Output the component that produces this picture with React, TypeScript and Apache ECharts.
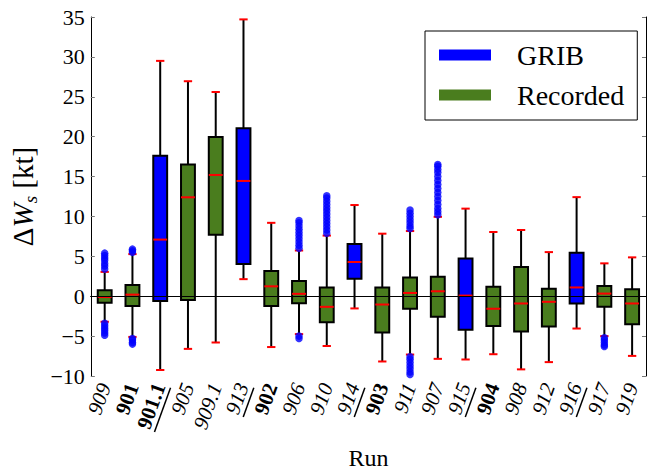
import React, { useEffect, useRef } from "react";
import * as echarts from "echarts";

// ---- data ----
const categories = ["909", "901", "901.1", "905", "909.1", "913", "902", "906", "910", "914", "903", "911", "907", "915", "904", "908", "912", "916", "917", "919"];
// G = GRIB, R = Recorded
const source = ["R", "R", "G", "R", "R", "G", "R", "R", "R", "G", "R", "R", "R", "G", "R", "R", "R", "G", "R", "R"];
const boldRuns = ["901", "901.1", "902", "903", "904"];

const whiskerLow = [-3.2, -5.1, -9.25, -6.6, -5.8, 2.14, -6.37, -4.75, -6.24, -1.53, -8.18, -7.31, -7.85, -7.93, -7.27, -9.17, -8.26, -4.05, -5.0, -7.48];
const q1 = [-0.83, -1.24, -0.6, -0.46, 7.7, 4.04, -1.24, -0.87, -3.27, 2.18, -4.55, -1.57, -2.56, -4.21, -3.72, -4.42, -3.8, -0.91, -1.33, -3.52];
const median = [-0.1, 0.2, 7.1, 12.4, 15.2, 14.45, 1.24, 0.3, -1.33, 4.29, -1.04, 0.41, 0.62, 0.08, -1.57, -0.91, -0.7, 1.1, 0.33, -0.91];
const q3 = [0.74, 1.4, 17.6, 16.5, 19.95, 21.05, 3.17, 1.9, 1.1, 6.56, 1.1, 2.35, 2.43, 4.74, 1.19, 3.67, 0.94, 5.45, 1.28, 0.87];
const whiskerHigh = [3.05, 5.28, 29.5, 26.95, 25.6, 34.7, 9.2, 5.73, 7.6, 11.43, 7.84, 8.17, 9.95, 10.98, 8.05, 8.3, 5.53, 12.42, 4.12, 4.87];

const outliers909 = [3.4, 3.8, 4.1, 4.5, 4.8, 5.1, 5.4, -3.4, -3.7, -4.0, -4.3, -4.6, -4.9];
const outliers901 = [5.5, 5.7, 5.9, -5.3, -5.5, -5.8, -6.0];
const outliers906 = [6.0, 6.4, 6.8, 7.2, 7.6, 8.0, 8.4, 8.8, 9.2, 9.5, -5.0, -5.3];
const outliers910 = [7.9, 8.3, 8.7, 9.1, 9.5, 9.9, 10.3, 10.7, 11.1, 11.5, 11.9, 12.3, 12.6];
const outliers911 = [8.5, 8.8, 9.2, 9.6, 10.0, 10.4, 10.8, -7.6, -7.9, -8.3, -8.7, -9.1, -9.5, -9.8];
const outliers907 = [10.2, 10.6, 11.0, 11.5, 12.0, 12.5, 13.0, 13.5, 14.0, 14.5, 15.0, 15.5, 15.9, 16.3, 16.5];
const outliers917 = [-5.2, -5.5, -5.8, -6.1, -6.3];

const outlierRuns = ["909", "901", "906", "910", "911", "907", "917"];
const outlierLists = [outliers909, outliers901, outliers906, outliers910, outliers911, outliers907, outliers917];

const FONT = "Liberation Serif";
const BLUE = "#0000ff";
const GREEN = "#4a7d1e";

export default function App() {
  const ref = useRef<HTMLDivElement>(null);

  useEffect(() => {
    if (!ref.current) return;
    const chart = echarts.init(ref.current, undefined, { renderer: "svg" });

    const boxData = (kind: string) =>
      categories
        .map((_, i) => [i, whiskerLow[i], q1[i], median[i], q3[i], whiskerHigh[i]])
        .filter((_, i) => source[i] === kind);

    const renderItem = (params: any, api: any) => {
      const x = api.value(0);
      const lo = api.coord([x, api.value(1)]);
      const a = api.coord([x, api.value(2)]);
      const m = api.coord([x, api.value(3)]);
      const b = api.coord([x, api.value(4)]);
      const hi = api.coord([x, api.value(5)]);
      const band = api.size([1, 0])[0];
      const hw = band * 0.25;
      const cw = band * 0.15;
      const cx = lo[0];
      const fill = api.visual("color");
      return {
        type: "group",
        children: [
          { type: "line", shape: { x1: cx, y1: lo[1], x2: cx, y2: a[1] }, style: { stroke: "#000", lineWidth: 2 } },
          { type: "line", shape: { x1: cx, y1: b[1], x2: cx, y2: hi[1] }, style: { stroke: "#000", lineWidth: 2 } },
          { type: "line", shape: { x1: cx - cw, y1: lo[1], x2: cx + cw, y2: lo[1] }, style: { stroke: "#ff0000", lineWidth: 2 } },
          { type: "line", shape: { x1: cx - cw, y1: hi[1], x2: cx + cw, y2: hi[1] }, style: { stroke: "#ff0000", lineWidth: 2 } },
          { type: "rect", shape: { x: cx - hw, y: b[1], width: hw * 2, height: a[1] - b[1] }, style: { fill, stroke: "#000", lineWidth: 2 } },
          { type: "line", shape: { x1: cx - hw, y1: m[1], x2: cx + hw, y2: m[1] }, style: { stroke: "#ff0000", lineWidth: 2 } },
        ],
      };
    };

    const scatterData: number[][] = [];
    outlierRuns.forEach((run, k) => {
      const idx = categories.indexOf(run);
      outlierLists[k].forEach((v) => scatterData.push([idx, v]));
    });

    const minus = (v: number) => (v < 0 ? "\u2212" + Math.abs(v) : String(v));

    const option: any = {
      animation: false,
      textStyle: { fontFamily: FONT },
      grid: { left: 87, right: 1, top: 17, bottom: 95, containLabel: false },
      legend: {
        data: ["GRIB", "Recorded"],
        orient: "vertical",
        left: 425,
        top: 31,
        padding: [10, 13, 11, 14],
        itemWidth: 52,
        itemHeight: 11,
        itemGap: 12,
        icon: "rect",
        borderColor: "#000",
        borderWidth: 1,
        borderRadius: 0,
        backgroundColor: "#fff",
        itemStyle: { borderWidth: 0 },
        textStyle: { fontFamily: FONT, fontSize: 28, lineHeight: 28, color: "#000", padding: [0, 0, 0, 21] },
      },
      xAxis: [
        {
          type: "category",
          data: categories,
          position: "bottom",
          boundaryGap: true,
          name: "Run",
          nameLocation: "middle",
          nameGap: 70,
          nameTextStyle: { fontFamily: FONT, fontSize: 24, color: "#000" },
          axisLine: { lineStyle: { color: "#000", width: 1 } },
          axisTick: { inside: true, alignWithLabel: true, length: 4, lineStyle: { color: "#777" } },
          axisLabel: {
            rotate: 70,
            margin: 8,
            interval: 0,
            color: "#000",
            formatter: (val: string, idx: number) => {
              const bold = boldRuns.includes(val);
              const key = bold ? "b" : "i";
              if (source[idx] === "G") {
                return `{${key}|${val}}\n{u${key}|}`;
              }
              return `{${key}|${val}}`;
            },
            rich: {
              i: { fontFamily: FONT, fontSize: 21, fontStyle: "italic", color: "#000", lineHeight: 22 },
              b: { fontFamily: FONT, fontSize: 21, fontWeight: "bold", color: "#000", lineHeight: 22 },
              ui: { width: 31, height: 1.5, lineHeight: 2, backgroundColor: "#000" },
              ub: { width: 47, height: 1.5, lineHeight: 2, backgroundColor: "#000" },
            },
          },
          splitLine: { show: false },
        },
        {
          type: "category",
          data: categories,
          position: "top",
          boundaryGap: true,
          axisLine: { lineStyle: { color: "#000", width: 1 } },
          axisTick: { inside: true, alignWithLabel: true, length: 4, lineStyle: { color: "#777" } },
          axisLabel: { show: false },
          splitLine: { show: false },
        },
      ],
      yAxis: [
        {
          type: "value",
          min: -10,
          max: 35,
          interval: 5,
          position: "left",
          name: "{d|Δ}{w|W}{s|s}{d| [kt]}",
          nameLocation: "middle",
          nameGap: 47,
          nameRotate: 90,
          nameTextStyle: {
            rich: {
              d: { fontFamily: FONT, fontSize: 29, color: "#000", lineHeight: 34, verticalAlign: "middle" },
              w: { fontFamily: FONT, fontSize: 29, fontStyle: "italic", color: "#000", lineHeight: 34, verticalAlign: "middle" },
              s: { fontFamily: FONT, fontSize: 19, fontStyle: "italic", color: "#000", lineHeight: 34, verticalAlign: "bottom" },
            },
          },
          axisLine: { show: true, lineStyle: { color: "#000", width: 1 } },
          axisTick: { show: true, inside: true, length: 4, lineStyle: { color: "#777" } },
          axisLabel: { fontFamily: FONT, fontSize: 22, color: "#000", margin: 6, formatter: minus },
          splitLine: { show: false },
        },
        {
          type: "value",
          min: -10,
          max: 35,
          interval: 5,
          position: "right",
          axisLine: { show: true, lineStyle: { color: "#000", width: 1 } },
          axisTick: { show: true, inside: true, length: 4, lineStyle: { color: "#777" } },
          axisLabel: { show: false },
          splitLine: { show: false },
        },
      ],
      series: [
        {
          name: "GRIB",
          type: "custom",
          renderItem,
          data: boxData("G"),
          encode: { x: 0, y: [1, 2, 3, 4, 5] },
          itemStyle: { color: BLUE },
          z: 3,
        },
        {
          name: "Recorded",
          type: "custom",
          renderItem,
          data: boxData("R"),
          encode: { x: 0, y: [1, 2, 3, 4, 5] },
          itemStyle: { color: GREEN },
          z: 3,
        },
        {
          name: "outliers",
          type: "scatter",
          data: scatterData,
          symbol: "circle",
          symbolSize: 7.5,
          itemStyle: { color: BLUE, opacity: 0.8 },
          z: 4,
          silent: true,
          markLine: {
            silent: true,
            symbol: ["none", "none"],
            label: { show: false },
            lineStyle: { color: "#000", width: 1, type: "solid" },
            data: [{ yAxis: 0 }],
            z: 6,
          },
        },
      ],
    };

    chart.setOption(option);
    return () => chart.dispose();
  }, []);

  return <div ref={ref} style={{ width: 647, height: 475, position: "absolute", left: 0, top: 0 }} />;
}
